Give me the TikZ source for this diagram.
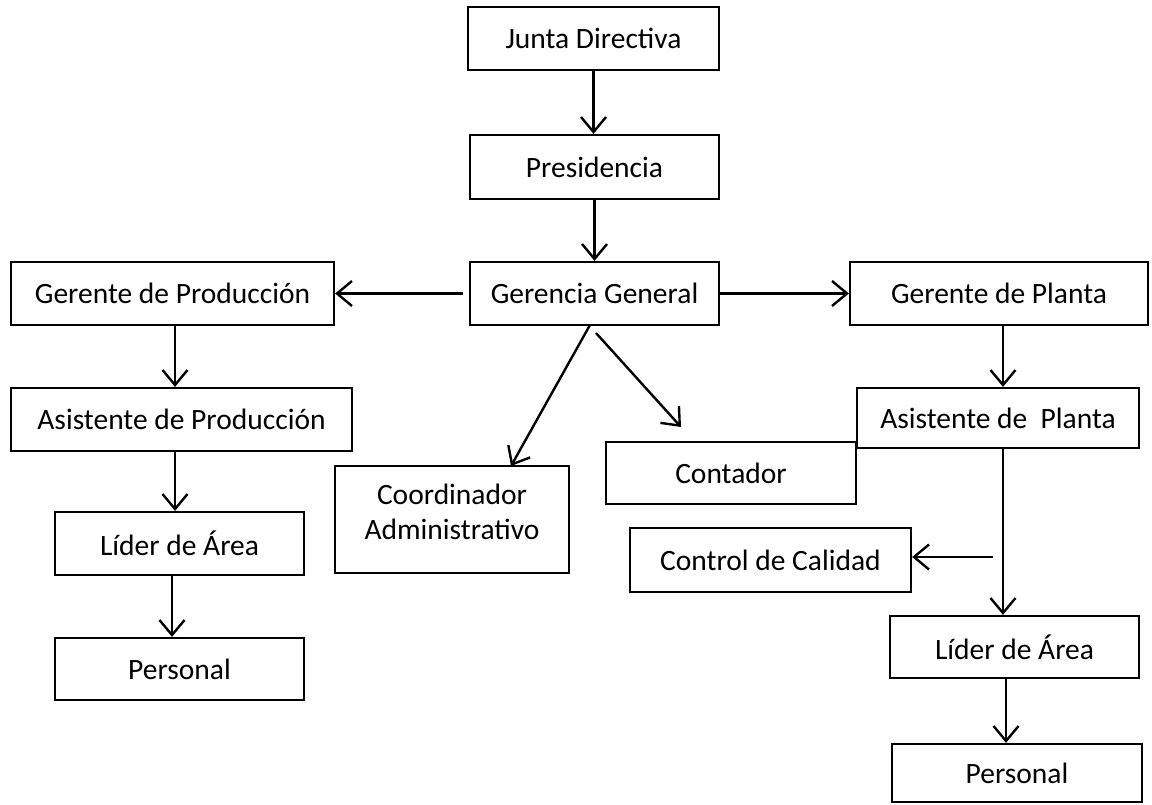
\documentclass[tikz,border=0pt]{standalone}
\usepackage{fontspec}
\setmainfont{Carlito}
\usetikzlibrary{arrows.meta}
\begin{document}
\begin{tikzpicture}[x=1pt,y=-1pt,
  box/.style={draw, line width=2.2pt, inner sep=0pt, font=\fontsize{29.5}{35}\selectfont, align=center},
  txt/.style={inner sep=0pt, font=\fontsize{29.5}{35}\selectfont, align=center},
  arr/.style={line width=2.4pt, -{Straight Barb[length=15pt,width=25pt]}}]
\useasboundingbox (0,0) rectangle (1152,805);
% boxes
\node[box, minimum width=251pt, minimum height=63pt] (jd) at (593.5,38.5) {Junta Directiva};
\node[box, minimum width=249pt, minimum height=64pt] (pres) at (594.5,167) {Presidencia};
\node[box, minimum width=249pt, minimum height=63pt] (gg) at (594.5,293.5) {Gerencia General};
\node[box, minimum width=323pt, minimum height=63pt] (gp) at (172.5,293.5) {Gerente de Producción};
\node[box, minimum width=298pt, minimum height=63pt] (gpl) at (999,293.5) {Gerente de Planta};
\node[box, minimum width=341pt, minimum height=63pt] (ap) at (181.5,419.5) {Asistente de Producción};
\node[box, minimum width=282pt, minimum height=60pt] (apl) at (998,418) {Asistente de\ \ Planta};
\node[box, minimum width=250pt, minimum height=62pt] (cont) at (731,473) {Contador};
\node[box, minimum width=234pt, minimum height=107pt] (coord) at (452,519.5) {};
\node[txt] (coordtxt) at (452,512) {Coordinador\\Administrativo};
\node[box, minimum width=281pt, minimum height=64pt] (ctrl) at (770.5,560) {Control de Calidad};
\node[box, minimum width=249pt, minimum height=63pt] (lidL) at (179.5,543.5) {Líder de Área};
\node[box, minimum width=249pt, minimum height=62pt] (perL) at (179.5,669) {Personal};
\node[box, minimum width=249pt, minimum height=62pt] (lidR) at (1014.5,647) {Líder de Área};
\node[box, minimum width=250pt, minimum height=58pt] (perR) at (1017,773) {Personal};
% free ends
\coordinate (ggW) at (463,293.5);
\coordinate (ggB1) at (590,325);
\coordinate (ggB2) at (596,333);
\coordinate (contTip) at (681,427);
\coordinate (coordTip) at (511,466);
\coordinate (ctrlStart) at (993,557);
% connectors
\draw[arr] (jd.south) -- (jd.south |- pres.north);
\draw[arr] (pres.south) -- (pres.south |- gg.north);
\draw[arr] (ggW) -- (gp.east |- ggW);
\draw[arr] (gg.east) -- (gpl.west |- gg.east);
\draw[arr] ([xshift=2.5pt]gp.south) -- ([xshift=2.5pt]gp.south |- ap.north);
\draw[arr] ([xshift=-6.5pt]ap.south) -- ([xshift=-6.5pt]ap.south |- lidL.north);
\draw[arr] ([xshift=-7.5pt]lidL.south) -- ([xshift=-7.5pt]lidL.south |- perL.north);
\draw[arr] ([xshift=4pt]gpl.south) -- ([xshift=4pt]gpl.south |- apl.north);
\draw[arr] ([xshift=5pt]apl.south) -- ([xshift=5pt]apl.south |- lidR.north);
\draw[arr] ([xshift=-8.5pt]lidR.south) -- ([xshift=-8.5pt]lidR.south |- perR.north);
\draw[arr] (ggB1) -- (coordTip);
\draw[arr] (ggB2) -- (contTip);
\draw[arr] (ctrlStart) -- (ctrl.east |- ctrlStart);
\end{tikzpicture}
\end{document}
